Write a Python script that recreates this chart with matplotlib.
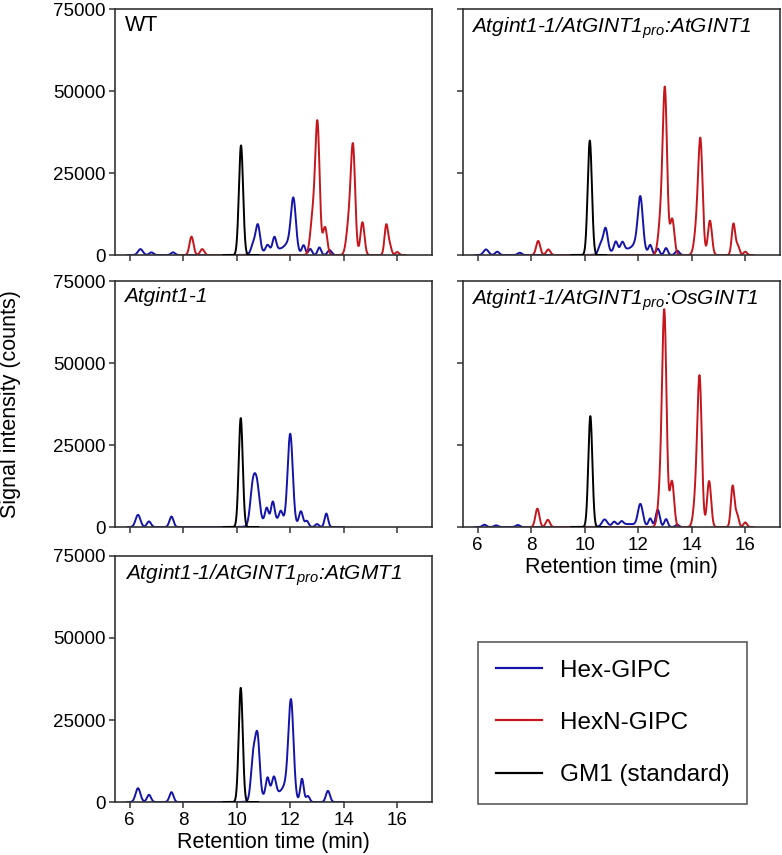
import numpy as np
import matplotlib
matplotlib.use("Agg")
import matplotlib.pyplot as plt
from matplotlib.lines import Line2D

plt.rcParams['font.family'] = ['Liberation Sans', 'DejaVu Sans']
plt.rcParams['mathtext.fontset'] = 'custom'
plt.rcParams['mathtext.rm'] = 'Liberation Sans'
plt.rcParams['mathtext.it'] = 'Liberation Sans:italic'

# ---------------- data: peak tables ----------------
# retention time (min), peak height (counts), peak width (sigma, min)
# WT
wt_hex_rt = [6.40, 6.81, 7.62, 10.62, 10.79, 11.15, 11.41, 11.50, 12.00, 12.12, 12.50, 12.75, 13.09, 13.47]
wt_hex_h = [1800, 800, 800, 3000, 8500, 1800, 3800, 1800, 3000, 14500, 2800, 1800, 2300, 1500]
wt_hex_w = [0.09, 0.075, 0.075, 0.085, 0.08, 0.065, 0.065, 0.45, 0.17, 0.09, 0.065, 0.065, 0.065, 0.075]
wt_hexn_rt = [8.31, 8.71, 12.85, 13.02, 13.30, 14.20, 14.35, 14.70, 15.59, 15.72, 16.00]
wt_hexn_h = [5600, 1800, 12000, 38500, 8500, 10000, 31000, 10000, 9000, 2800, 900]
wt_hexn_w = [0.075, 0.075, 0.095, 0.08, 0.08, 0.095, 0.08, 0.075, 0.065, 0.065, 0.065]
wt_gm1_rt = [10.16]
wt_gm1_h = [33400]
wt_gm1_w = [0.078]

# Atgint1-1/AtGINT1pro:AtGINT1
c1_hex_rt = [6.31, 6.73, 7.57, 10.60, 10.78, 11.16, 11.41, 11.50, 12.00, 12.08, 12.45, 12.73, 13.04, 13.46]
c1_hex_h = [1700, 1000, 700, 3000, 7500, 2800, 2300, 1800, 3000, 14500, 2800, 1900, 2100, 1300]
c1_hex_w = [0.09, 0.075, 0.075, 0.085, 0.08, 0.065, 0.065, 0.45, 0.17, 0.09, 0.065, 0.065, 0.065, 0.075]
c1_hexn_rt = [8.26, 8.64, 12.85, 13.00, 13.27, 14.20, 14.33, 14.68, 15.56, 15.72, 16.00]
c1_hexn_h = [4300, 1700, 11000, 48000, 11000, 9000, 32000, 10500, 9500, 2800, 1000]
c1_hexn_w = [0.075, 0.075, 0.095, 0.08, 0.08, 0.095, 0.08, 0.075, 0.065, 0.065, 0.065]
c1_gm1_rt = [10.19]
c1_gm1_h = [34900]
c1_gm1_w = [0.078]

# Atgint1-1
mu_hex_rt = [6.31, 6.72, 7.56, 10.60, 10.76, 11.12, 11.35, 11.65, 12.00, 12.40, 12.62, 13.00, 13.35, 11.40]
mu_hex_h = [3700, 1700, 3200, 11500, 11000, 4000, 5500, 3000, 27500, 4600, 1800, 900, 4100, 2300]
mu_hex_w = [0.09, 0.075, 0.075, 0.095, 0.095, 0.065, 0.065, 0.065, 0.095, 0.075, 0.065, 0.065, 0.065, 0.45]
mu_gm1_rt = [10.15]
mu_gm1_h = [33200]
mu_gm1_w = [0.075]

# Atgint1-1/AtGINT1pro:OsGINT1
c2_hex_rt = [6.25, 6.69, 7.50, 10.74, 11.10, 11.38, 12.08, 12.45, 12.73, 13.04, 13.46, 11.60]
c2_hex_h = [700, 500, 600, 2100, 1100, 1000, 6500, 2400, 5200, 2400, 700, 900]
c2_hex_w = [0.075, 0.075, 0.075, 0.095, 0.065, 0.065, 0.09, 0.065, 0.075, 0.065, 0.065, 0.5]
c2_hexn_rt = [8.23, 8.62, 12.85, 12.98, 13.26, 14.18, 14.30, 14.65, 15.53, 15.69, 16.00]
c2_hexn_h = [5600, 2200, 13000, 61000, 14000, 11000, 41000, 14000, 12500, 3800, 1400]
c2_hexn_w = [0.075, 0.075, 0.095, 0.08, 0.08, 0.095, 0.08, 0.075, 0.065, 0.065, 0.065]
c2_gm1_rt = [10.21]
c2_gm1_h = [33800]
c2_gm1_w = [0.075]

# Atgint1-1/AtGINT1pro:AtGMT1
c3_hex_rt = [6.31, 6.72, 7.56, 10.62, 10.78, 11.15, 11.39, 12.03, 12.44, 12.66, 13.41, 11.40, 11.85]
c3_hex_h = [4200, 2200, 3000, 13500, 18000, 5200, 5000, 29000, 7000, 1800, 3400, 2800, 3500]
c3_hex_w = [0.09, 0.075, 0.075, 0.085, 0.08, 0.065, 0.075, 0.095, 0.065, 0.065, 0.075, 0.4, 0.14]
c3_gm1_rt = [10.15]
c3_gm1_h = [34800]
c3_gm1_w = [0.075]

# time window over which each detector trace was recorded (min)
hex_window = [5.9, 14.0]
hexn_window = [7.9, 16.3]
gm1_window = [9.5, 10.8]

series_colors = {'Hex-GIPC': '#1414a8', 'HexN-GIPC': '#c4161c', 'GM1 (standard)': '#000000'}

panels = [
    ('WT', False, (wt_hex_rt, wt_hex_h, wt_hex_w), (wt_hexn_rt, wt_hexn_h, wt_hexn_w), (wt_gm1_rt, wt_gm1_h, wt_gm1_w)),
    ('Atgint1-1/AtGINT1$_{pro}$:AtGINT1', True, (c1_hex_rt, c1_hex_h, c1_hex_w), (c1_hexn_rt, c1_hexn_h, c1_hexn_w), (c1_gm1_rt, c1_gm1_h, c1_gm1_w)),
    ('Atgint1-1', True, (mu_hex_rt, mu_hex_h, mu_hex_w), None, (mu_gm1_rt, mu_gm1_h, mu_gm1_w)),
    ('Atgint1-1/AtGINT1$_{pro}$:OsGINT1', True, (c2_hex_rt, c2_hex_h, c2_hex_w), (c2_hexn_rt, c2_hexn_h, c2_hexn_w), (c2_gm1_rt, c2_gm1_h, c2_gm1_w)),
    ('Atgint1-1/AtGINT1$_{pro}$:AtGMT1', True, (c3_hex_rt, c3_hex_h, c3_hex_w), None, (c3_gm1_rt, c3_gm1_h, c3_gm1_w)),
]


def trace(window, peaks):
    t = np.linspace(window[0], window[1], 1500)
    y = np.zeros_like(t)
    for rt, h, w in zip(*peaks):
        y += h * np.exp(-0.5 * ((t - rt) / w) ** 2)
    return t, y


fig = plt.figure(figsize=(7.82, 8.55), dpi=100)
W, H = 782, 855
col_x = [115, 463]
row_top = [9, 281, 556]
ax_w, ax_h = 317, 246

rects = [(0, 0), (0, 1), (1, 0), (1, 1), (2, 0)]
axes = []
for (r, c), (label, ital, hexp, hexnp, gm1p) in zip(rects, panels):
    x0 = col_x[c] / W
    y0 = 1 - (row_top[r] + ax_h) / H
    ax = fig.add_axes([x0, y0, ax_w / W, ax_h / H])
    axes.append(ax)
    if gm1p is not None:
        t, y = trace(gm1_window, gm1p)
        ax.plot(t, y, color=series_colors['GM1 (standard)'], lw=1.4, zorder=3)
    if hexp is not None:
        t, y = trace(hex_window, hexp)
        ax.plot(t, y, color=series_colors['Hex-GIPC'], lw=1.4, zorder=2)
    if hexnp is not None:
        t, y = trace(hexn_window, hexnp)
        ax.plot(t, y, color=series_colors['HexN-GIPC'], lw=1.4, zorder=2)
    ax.set_xlim(5.45, 17.3)
    ax.set_ylim(0, 75000)
    ax.set_xticks([6, 8, 10, 12, 14, 16])
    ax.set_yticks([0, 25000, 50000, 75000])
    for s in ax.spines.values():
        s.set_linewidth(1.2)
        s.set_color('#333333')
    ax.tick_params(direction='out', length=4.5, width=1.1, color='#333333', labelsize=13.5, pad=2.5)
    if c == 1:
        ax.tick_params(labelleft=False)
    if not ((r == 2 and c == 0) or (r == 1 and c == 1)):
        ax.tick_params(labelbottom=False)
    else:
        ax.set_xlabel('Retention time (min)', fontsize=15.5, labelpad=2)
    ax.text(0.03 if c == 0 else 0.025, 0.975, label, transform=ax.transAxes, ha='left', va='top',
            fontsize=15.5 if not ital else 15, fontstyle='italic' if ital else 'normal')

axes[2].set_ylabel('Signal intensity (counts)', fontsize=15.5)
axes[2].yaxis.set_label_coords(-0.295, 0.5)

handles = [Line2D([], [], color=series_colors[k], lw=1.6) for k in series_colors]
leg = fig.legend(handles, list(series_colors.keys()), loc='upper left',
                 bbox_to_anchor=(478 / W, 1 - 642 / H), borderaxespad=0,
                 fontsize=17.5, frameon=True, fancybox=False, handlelength=1.9,
                 handletextpad=0.75, labelspacing=1.25, borderpad=0.72)
leg.get_frame().set_edgecolor('#333333')
leg.get_frame().set_linewidth(1.2)

fig.savefig('out.png', dpi=100)
